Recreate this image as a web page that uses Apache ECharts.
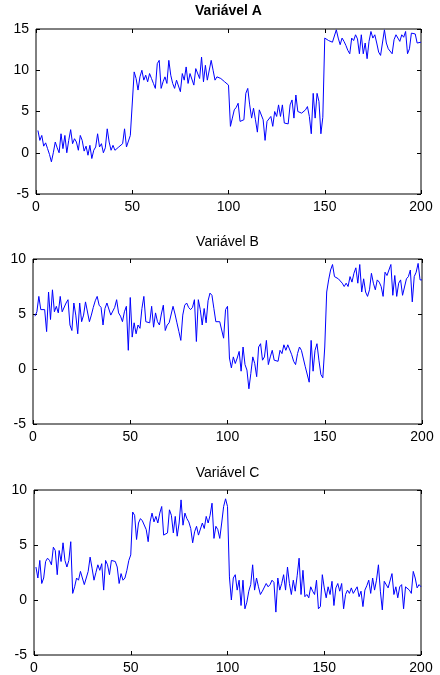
<!DOCTYPE html>
<html>
<head>
<meta charset="utf-8">
<script src="https://cdn.jsdelivr.net/npm/echarts/dist/echarts.min.js"></script>
<style>
  html, body { margin: 0; padding: 0; background: #fff; }
  #chart { width: 440px; height: 675px; }
</style>
</head>
<body>
<div id="chart"></div>
<script>
// valores (amostras 1..200)
var varA = [
  2.7, 1.5, 2.1, 0.8, 1.2, 0.5, -0.2, -1.1, 0.0, 1.3,
  0.6, 0.0, 2.3, 0.5, 2.1, 0.0, 1.5, 2.8, 1.1, 1.7,
  1.3, 0.3, 2.1, 1.5, 0.2, 0.8, -0.3, 0.9, -0.7, 0.3,
  0.7, 2.3, 0.7, 1.1, 0.0, 0.6, 2.9, 1.3, 0.3, 0.9,
  0.3, 0.2, 0.7, 0.5, 1.1, 2.9, 0.7, 0.7, 2.1, 2.0,
  9.8, 9.0, 7.6, 9.2, 10.0, 8.8, 9.4, 8.6, 9.6, 9.0,
  8.4, 7.8, 10.8, 11.2, 7.8, 8.6, 9.2, 8.4, 11.2, 9.4,
  8.4, 7.8, 8.8, 9.0, 7.4, 9.6, 8.8, 10.4, 8.4, 9.6,
  9.8, 8.2, 10.2, 10.4, 9.0, 11.6, 8.6, 10.6, 8.8, 8.6,
  11.2, 10.0, 8.8, 9.2, 9.0, 9.0, 8.8, 8.6, 8.4, 8.2,
  3.2, 4.2, 5.2, 5.5, 6.0, 3.8, 3.8, 4.0, 7.2, 7.8,
  5.8, 4.2, 5.4, 4.0, 2.5, 5.2, 5.4, 4.0, 1.5, 3.8,
  3.6, 4.4, 3.2, 5.0, 4.4, 5.8, 4.4, 5.8, 3.6, 3.4,
  3.5, 5.8, 6.4, 4.2, 7.0, 5.0, 5.0, 4.8, 4.6, 5.2,
  5.6, 4.4, 2.3, 7.2, 4.2, 7.2, 6.2, 2.3, 4.3, 13.9,
  13.7, 13.6, 13.5, 13.4, 13.6, 14.9, 13.9, 13.1, 13.9, 13.5,
  13.0, 12.4, 12.0, 13.9, 13.6, 14.3, 13.8, 12.0, 14.3, 12.0,
  13.3, 11.4, 13.5, 14.7, 13.9, 14.3, 13.3, 12.2, 11.8, 12.0,
  14.9, 13.3, 12.6, 12.4, 12.0, 13.7, 14.3, 13.9, 13.5, 14.3,
  14.0, 14.7, 12.0, 12.6, 14.5, 14.5, 14.4, 13.3, 13.3, 13.4
];

var varB = [
  4.8, 5.2, 6.6, 5.4, 5.4, 5.4, 3.4, 7.0, 4.5, 7.2,
  5.2, 5.7, 5.1, 6.6, 5.2, 5.1, 6.0, 6.3, 4.0, 3.5,
  6.0, 4.9, 3.2, 6.0, 4.3, 4.9, 6.1, 6.0, 4.3, 4.9,
  5.6, 6.2, 6.6, 5.8, 5.6, 4.0, 5.5, 6.0, 6.0, 4.9,
  4.9, 5.6, 6.3, 5.1, 4.8, 4.3, 5.2, 5.7, 1.7, 6.5,
  2.9, 4.2, 3.2, 4.0, 3.7, 5.5, 6.6, 4.3, 4.4, 4.2,
  5.7, 3.8, 5.1, 4.3, 4.0, 5.0, 5.8, 3.5, 4.0, 4.2,
  4.3, 5.7, 5.0, 4.2, 3.4, 2.6, 4.9, 5.8, 6.0, 5.6,
  5.4, 5.6, 6.3, 2.5, 6.3, 5.4, 4.0, 5.5, 4.2, 6.2,
  6.9, 6.7, 5.5, 4.3, 4.2, 4.3, 4.2, 2.8, 5.4, 5.7,
  1.0, 0.1, 1.1, 0.5, 1.0, 1.6, -0.2, 2.0, 0.4, -0.1,
  -1.8, -0.4, 1.1, 0.5, -0.7, 2.0, 2.3, 0.8, 1.1, 2.6,
  0.4, 1.1, 1.7, 0.8, 0.7, 0.7, 1.7, 1.4, 2.2, 1.7,
  2.2, 2.2, 1.3, 0.7, 0.4, 1.4, 2.0, 1.7, 1.6, 0.2,
  0.1, -1.2, 2.6, -0.2, 1.7, 2.3, 0.8, -0.5, -0.8, 2.0,
  7.0, 8.1, 9.0, 9.5, 8.4, 8.5, 8.2, 8.0, 7.8, 7.5,
  7.8, 7.5, 8.4, 7.9, 8.7, 9.2, 7.8, 9.5, 7.0, 8.2,
  7.0, 6.6, 7.2, 8.7, 7.8, 7.2, 8.1, 7.9, 7.5, 6.6,
  8.8, 8.5, 8.6, 9.5, 6.7, 8.5, 6.6, 7.8, 8.1, 6.7,
  6.7, 8.2, 8.4, 9.0, 6.1, 8.4, 8.8, 9.6, 8.1, 8.1
];

var varC = [
  3.0, 2.0, 3.6, 1.5, 2.0, 3.5, 3.8, 3.6, 3.2, 4.8,
  4.5, 2.3, 4.5, 3.5, 5.2, 3.6, 3.0, 3.6, 5.3, 0.6,
  1.2, 2.0, 1.8, 2.6, 2.7, 1.4, 2.0, 2.6, 3.9, 2.9,
  1.8, 2.5, 3.2, 2.7, 3.3, 0.9, 3.6, 3.2, 2.3, 3.6,
  3.5, 3.5, 3.0, 1.5, 2.4, 1.8, 2.0, 2.7, 3.6, 4.1,
  8.0, 7.7, 5.5, 7.0, 7.4, 7.2, 7.1, 6.4, 5.3, 7.1,
  7.9, 7.1, 7.6, 7.0, 7.9, 8.5, 5.9, 5.9, 6.1, 8.2,
  7.7, 6.1, 7.6, 5.8, 7.0, 9.1, 6.8, 7.9, 7.4, 7.1,
  6.5, 5.2, 6.2, 6.7, 5.9, 5.8, 7.0, 6.5, 7.6, 7.0,
  7.7, 8.8, 5.6, 6.7, 6.4, 5.6, 7.0, 8.5, 9.2, 8.5,
  2.1, 0.0, 2.0, 2.3, 0.9, 1.8, -0.5, 1.8, -0.8, -0.2,
  0.8, 1.4, 3.2, 0.9, 2.0, 1.2, 0.5, 0.8, 0.9, 1.5,
  1.2, 1.4, 1.8, 1.6, -1.1, 2.0, 0.9, 1.5, 2.3, 0.9,
  3.0, 1.5, 0.5, 1.8, 0.8, 2.2, 3.8, 0.5, 2.7, 0.3,
  0.5, 0.2, 1.2, 0.8, 0.5, 1.8, -0.8, -0.6, 2.3, 1.1,
  0.2, 1.2, 0.5, 1.7, -0.5, 1.1, 1.5, 0.8, 1.5, -0.8,
  0.5, 0.9, 0.6, 1.1, 0.6, 0.5, 1.2, 0.3, 0.8, -0.6,
  0.9, 1.3, 1.8, 0.6, 2.0, 0.9, 1.8, 3.2, 0.8, -0.9,
  1.7, 1.8, 1.1, 1.1, 2.4, 0.5, 1.2, 0.2, 1.2, 1.4,
  -0.8, 1.2, 1.2, 0.9, 0.6, 2.6, 2.0, 1.1, 1.4, 1.2
];

var titulos = ['Variável A', 'Variável B', 'Variável C'];
var xTicks = [0, 50, 100, 150, 200];
var yLimA = [-5, 15];
var yLimB = [-5, 10];
var yLimC = [-5, 10];

var myChart = echarts.init(document.getElementById('chart'));

var fonte = 'Liberation Sans, Arial, Helvetica, sans-serif';
var series = [varA, varB, varC];
var ylims = [yLimA, yLimB, yLimC];
var grids = [
  { left: 36, top: 29, width: 385, height: 165 },
  { left: 33, top: 259, width: 389, height: 165 },
  { left: 34, top: 490, width: 387, height: 165 }
];
var titleTops = [4, 235, 466];

var option = {
  animation: false,
  backgroundColor: '#fff',
  title: [],
  grid: [],
  xAxis: [],
  yAxis: [],
  series: []
};

for (var k = 0; k < 3; k++) {
  var g = grids[k];
  option.grid.push({
    left: g.left, top: g.top, width: g.width, height: g.height,
    show: true, borderColor: '#000', borderWidth: 1, backgroundColor: '#fff'
  });
  option.title.push({
    text: titulos[k],
    left: g.left + g.width / 2,
    top: titleTops[k],
    textAlign: 'center',
    padding: 0,
    textStyle: {
      fontFamily: fonte, fontSize: 14, color: '#000',
      fontWeight: k === 0 ? 'bold' : 'normal'
    }
  });

  // eixo x de baixo (com rótulos) e de cima (só marcas)
  ['bottom', 'top'].forEach(function (pos) {
    option.xAxis.push({
      type: 'value', gridIndex: k, position: pos,
      min: xTicks[0], max: xTicks[xTicks.length - 1], interval: 50,
      axisLine: { show: false, onZero: false },
      axisTick: { show: true, inside: true, length: 4, lineStyle: { color: '#000' } },
      axisLabel: {
        show: pos === 'bottom', margin: 6, color: '#000',
        fontFamily: fonte, fontSize: 14
      },
      splitLine: { show: false }
    });
  });
  // eixo y da esquerda (com rótulos) e da direita (só marcas)
  ['left', 'right'].forEach(function (pos) {
    option.yAxis.push({
      type: 'value', gridIndex: k, position: pos,
      min: ylims[k][0], max: ylims[k][1], interval: 5,
      axisLine: { show: false, onZero: false },
      axisTick: { show: true, inside: true, length: 4, lineStyle: { color: '#000' } },
      axisLabel: {
        show: pos === 'left', margin: 7, color: '#000',
        fontFamily: fonte, fontSize: 14
      },
      splitLine: { show: false }
    });
  });

  var dados = [];
  for (var i = 0; i < series[k].length; i++) {
    dados.push([i + 1, series[k][i]]);
  }
  option.series.push({
    name: titulos[k],
    type: 'line',
    xAxisIndex: 2 * k,
    yAxisIndex: 2 * k,
    data: dados,
    symbol: 'none',
    lineStyle: { color: '#0000ff', width: 1 },
    itemStyle: { color: '#0000ff' }
  });
}

myChart.setOption(option);
</script>
</body>
</html>
